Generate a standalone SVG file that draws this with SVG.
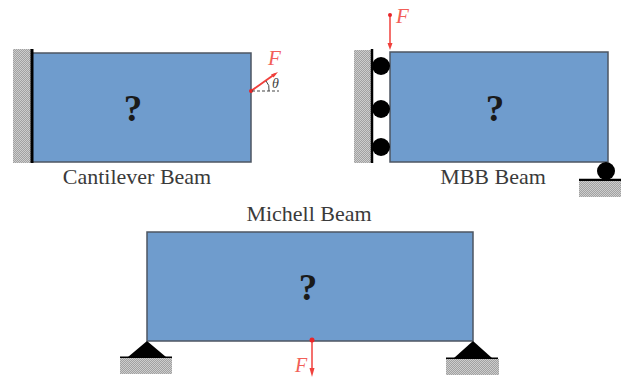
<svg xmlns="http://www.w3.org/2000/svg" width="621" height="377" viewBox="0 0 621 377">
<style>
.beam{fill:#6f9ccd;stroke:#4d5662;stroke-width:1.5}
.bar{stroke:#000;fill:none}
.q{font:bold 37px "Liberation Serif",serif;fill:#1a1a1a;text-anchor:middle}
.lbl{font:22px "Liberation Serif",serif;fill:#3a3a3a;text-anchor:middle}
.f{font:italic 21px "Liberation Serif",serif;fill:#f25f58}
.force{stroke:#f0403c;stroke-width:1.5;fill:none}
.dot{fill:#e8262a}
.head{fill:#f0403c}
</style>
<defs>
<pattern id="h" width="2" height="2" patternUnits="userSpaceOnUse"><rect width="2" height="2" fill="#cdcdcd"/><path d="M0 2L2 0" stroke="#9c9c9c" stroke-width="0.9"/></pattern>
</defs>
<g id="cantilever">
<rect x="13" y="49" width="19" height="114" fill="url(#h)"/>
<rect class="beam" x="32" y="53" width="219" height="109"/>
<path class="bar" d="M32 49V163" stroke-width="3"/>
<text class="q" x="133" y="121">?</text>
<text class="lbl" x="137" y="184">Cantilever Beam</text>
<path class="force" d="M251 91L275 74" style="stroke-width:2"/>
<path class="head" d="M278 72L271 74.500L273.500 77.500Z"/>
<circle class="dot" cx="251" cy="91" r="2"/>
<path d="M252 91H279" stroke="#444" stroke-width="1" stroke-dasharray="3 2" fill="none"/>
<path d="M266 81Q270 85 269 91" stroke="#444" stroke-width="1" fill="none"/>
<text class="f" x="268" y="65">F</text>
<text x="272" y="88" font-family="Liberation Serif,serif" font-style="italic" font-size="14" fill="#444">θ</text>
</g>
<g id="mbb">
<rect x="354" y="50" width="18" height="113" fill="url(#h)"/>
<rect class="beam" x="390" y="52" width="218" height="110"/>
<path class="bar" d="M372 49V163" stroke-width="2.500"/>
<circle cx="381" cy="66" r="9"/>
<circle cx="381" cy="109" r="9"/>
<circle cx="381" cy="147" r="9"/>
<circle cx="606" cy="171" r="9"/>
<path class="bar" d="M579 180H621" stroke-width="2.500"/>
<rect x="579" y="181" width="42" height="16" fill="url(#h)"/>
<text class="q" x="495" y="121">?</text>
<text class="lbl" x="493" y="184">MBB Beam</text>
<path class="force" d="M390 15V46"/>
<path class="head" d="M390 50L387.500 43H392.500Z"/>
<circle class="dot" cx="390" cy="15" r="2"/>
<text class="f" x="396" y="23">F</text>
</g>
<g id="michell">
<rect class="beam" x="147" y="232" width="326" height="109"/>
<text class="q" x="308" y="300">?</text>
<text class="lbl" x="309" y="221">Michell Beam</text>
<path d="M147 341L128 357H166Z" fill="#000"/>
<path d="M473 341L454 358H492Z" fill="#000"/>
<path class="bar" d="M120 357.500H172" stroke-width="2"/>
<path class="bar" d="M446 358.500H498" stroke-width="2"/>
<rect x="120" y="358" width="52" height="16" fill="url(#h)"/>
<rect x="446" y="359" width="53" height="16" fill="url(#h)"/>
<path class="force" d="M312 340V372"/>
<path class="head" d="M312 377L309.500 368H314.500Z"/>
<circle class="dot" cx="312" cy="340" r="2.500"/>
<text class="f" x="295" y="372" style="font-size:20px">F</text>
</g>
</svg>
